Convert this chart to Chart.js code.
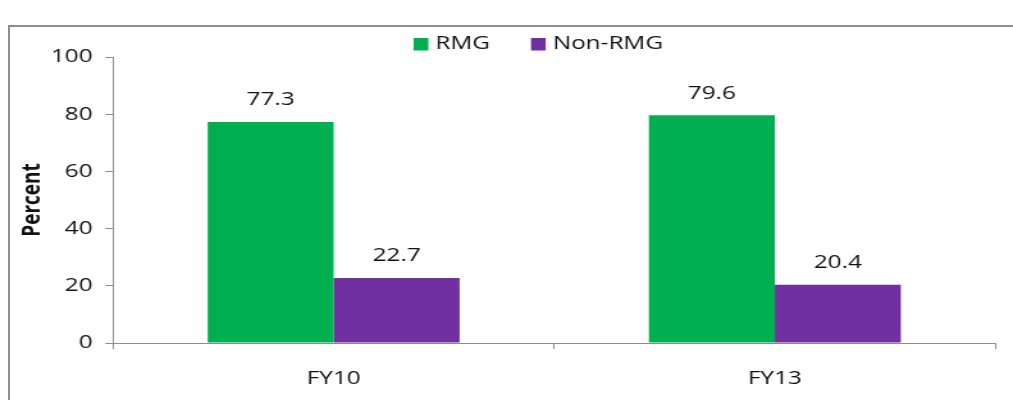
<!DOCTYPE html>
<html>
<head>
<meta charset="utf-8">
<script src="https://cdn.jsdelivr.net/npm/chart.js@4.4.1/dist/chart.umd.min.js"></script>
<style>
  body { margin: 0; overflow: hidden; background: #fff; }
  #frame { position: absolute; left: 8px; top: 25px; width: 1100px; height: 500px; border: 2px solid #8e8e8e; }
  #wrap { position: absolute; left: 0; top: 0; width: 791px; height: 400px; transform: scaleX(1.2806); transform-origin: 0 0; }
</style>
</head>
<body>
<div id="frame"></div>
<div id="wrap"><canvas id="chart" width="791" height="400"></canvas></div>
<script>
const categories = ['FY10', 'FY13'];
const rmgValues = [77.3, 79.6];
const nonRmgValues = [22.7, 20.4];
const yTicks = [0, 20, 40, 60, 80, 100];

const FONT = "'Open Sans', sans-serif";
const TEXT = '#111';
const AXIS = '#8c8c8c';

// value labels above each bar
const barLabels = {
    id: 'barLabels',
    afterDatasetsDraw(chart) {
        const ctx = chart.ctx;
        ctx.save();
        ctx.font = '19px ' + FONT;
        ctx.fillStyle = TEXT;
        ctx.textAlign = 'center';
        ctx.textBaseline = 'middle';
        chart.data.datasets.forEach((ds, i) => {
            chart.getDatasetMeta(i).data.forEach((bar, j) => {
                ctx.fillText(ds.data[j].toFixed(1), bar.x, bar.y - 22);
            });
        });
        ctx.restore();
    }
};

// legend in a single row, like the original
const rowLegend = {
    id: 'rowLegend',
    afterDraw(chart) {
        const ctx = chart.ctx;
        ctx.save();
        ctx.font = '19px ' + FONT;
        ctx.textBaseline = 'middle';
        let x = 323;
        const y = 44;
        chart.data.datasets.forEach(ds => {
            ctx.fillStyle = ds.backgroundColor;
            ctx.fillRect(x, y - 6, 11.5, 12.5);
            x += 11.5 + 5.5;
            ctx.fillStyle = TEXT;
            ctx.fillText(ds.label, x, y);
            x += ctx.measureText(ds.label).width + 32;
        });
        ctx.restore();
    }
};

new Chart(document.getElementById('chart'), {
    type: 'bar',
    data: {
        labels: categories,
        datasets: [
            { label: 'RMG', data: rmgValues, backgroundColor: '#00b050' },
            { label: 'Non-RMG', data: nonRmgValues, backgroundColor: '#7030a0' }
        ]
    },
    options: {
        responsive: false,
        animation: false,
        layout: { padding: { left: 0, right: 13.7, top: 57, bottom: 0 } },
        datasets: { bar: { categoryPercentage: 0.571, barPercentage: 1.0 } },
        plugins: {
            legend: { display: false },
            tooltip: { enabled: false }
        },
        scales: {
            x: {
                afterFit(scale) {
                    scale.height = 57;
                },
                grid: { display: true, drawOnChartArea: false, drawTicks: true, tickLength: 6, color: AXIS },
                border: { display: true, color: AXIS },
                ticks: { font: { family: FONT, size: 19 }, color: TEXT, padding: 18 }
            },
            y: {
                min: 0,
                max: 100,
                afterBuildTicks(scale) {
                    scale.ticks = yTicks.map(v => ({ value: v }));
                },
                afterFit(scale) {
                    scale.width = 88.3;
                },
                grid: { display: true, drawOnChartArea: false, drawTicks: true, tickLength: 6, color: AXIS },
                border: { display: true, color: AXIS },
                ticks: { font: { family: FONT, size: 19 }, color: TEXT, padding: 10 },
                title: {
                    display: true,
                    text: 'Percent',
                    font: { family: FONT, size: 19, weight: 'bold' },
                    color: TEXT,
                    padding: { top: 14, bottom: 4 }
                }
            }
        }
    },
    plugins: [barLabels, rowLegend]
});
</script>
</body>
</html>
